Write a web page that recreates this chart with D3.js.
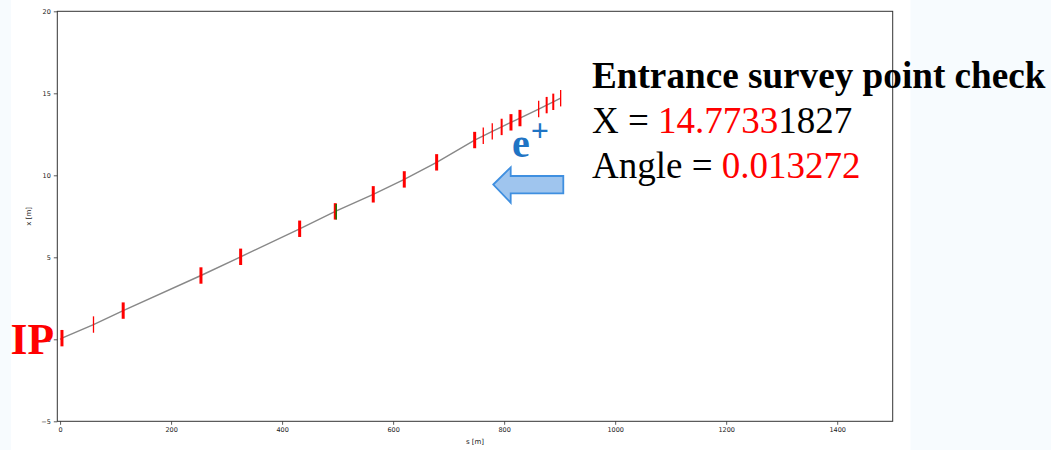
<!DOCTYPE html>
<html>
<head>
<meta charset="utf-8">
<script src="https://cdn.jsdelivr.net/npm/d3@7/dist/d3.min.js"></script>
<style>
  html, body { margin: 0; padding: 0; background: #f7fbfe; }
  svg { display: block; }
</style>
</head>
<body>
<svg id="chart" width="1051" height="450"></svg>
<script>
// ---- data ----
const lineS = [0, 3.4, 60.2, 113.7, 253.8, 325.3, 431.6, 495.8, 564.2, 620.1, 678.4, 746.9, 762.4, 778.6, 795.5, 812.3, 828.5, 862.2, 876.6, 888.5, 901.8];
const lineX = [0, 0.07, 0.90, 1.75, 3.89, 5.03, 6.74, 7.80, 8.84, 9.75, 10.79, 12.15, 12.41, 12.68, 12.95, 13.23, 13.49, 14.04, 14.28, 14.48, 14.70];
const markerS = [3.4, 60.2, 113.7, 253.8, 325.3, 431.6, 495.8, 564.2, 620.1, 678.4, 746.9, 762.4, 778.6, 795.5, 812.3, 828.5, 862.2, 876.6, 888.5, 901.8];
const markerX = [0.07, 0.90, 1.75, 3.89, 5.03, 6.74, 7.80, 8.84, 9.75, 10.79, 12.15, 12.41, 12.68, 12.95, 13.23, 13.49, 14.04, 14.28, 14.48, 14.70];
const markerType = ["B", "Q", "B", "B", "B", "B", "B", "B", "B", "B", "B", "Q", "Q", "S", "B", "B", "Q", "S", "S", "Q"];
const greenS = [497.5];
const greenX = [7.80];
const xTicks = [0, 200, 400, 600, 800, 1000, 1200, 1400];
const yTicks = [-5, 0, 5, 10, 15, 20];
const xDomain = [-5, 1500];
const yDomain = [-5, 20];
const markerHalfLen = 0.5;

// ---- layout ----
const svg = d3.select("#chart");
const mLeft = 57.3, mRight = 892.7, mTop = 11.3, mBottom = 421.3;

svg.append("rect").attr("x", 11).attr("y", 0).attr("width", 899.5).attr("height", 450).attr("fill", "#ffffff");

const x = d3.scaleLinear().domain(xDomain).range([mLeft, mRight]);
const y = d3.scaleLinear().domain(yDomain).range([mBottom, mTop]);

const axisColor = "#333";
const tickFont = "DejaVu Sans, sans-serif";
const fmt = d => (d < 0 ? "\u2212" + Math.abs(d) : String(d));

const gx = svg.append("g").attr("transform", `translate(0,${mBottom})`)
  .call(d3.axisBottom(x).tickValues(xTicks).tickFormat(fmt).tickSizeOuter(0).tickSize(3.5).tickPadding(3));
const gy = svg.append("g").attr("transform", `translate(${mLeft},0)`)
  .call(d3.axisLeft(y).tickValues(yTicks).tickFormat(fmt).tickSizeOuter(0).tickSize(3.5).tickPadding(3));
[gx, gy].forEach(g => {
  g.select(".domain").remove();
  g.selectAll("line").attr("stroke", axisColor).attr("stroke-width", 0.8);
  g.selectAll("text").attr("fill", "#222").style("font-family", tickFont).style("font-size", "6.5px");
});

svg.append("rect").attr("x", mLeft).attr("y", mTop).attr("width", mRight - mLeft).attr("height", mBottom - mTop)
  .attr("fill", "none").attr("stroke", axisColor).attr("stroke-width", 1);

svg.append("text").attr("x", (mLeft + mRight) / 2).attr("y", 444).attr("text-anchor", "middle")
  .style("font-family", tickFont).style("font-size", "7px").attr("fill", "#222").text("s [m]");
svg.append("text").attr("transform", `translate(31,${(mTop + mBottom) / 2}) rotate(-90)`).attr("text-anchor", "middle")
  .style("font-family", tickFont).style("font-size", "7px").attr("fill", "#222").text("x [m]");

// beam line
const line = d3.line().x((d, i) => x(lineS[i])).y((d, i) => y(lineX[i]));
svg.append("path").datum(lineS).attr("d", line).attr("fill", "none").attr("stroke", "#888").attr("stroke-width", 1.4);

// markers
const widthOf = { B: 3, S: 2, Q: 1.3 };
svg.append("g").selectAll("line").data(markerS).join("line")
  .attr("x1", (d) => x(d)).attr("x2", (d) => x(d))
  .attr("y1", (d, i) => y(markerX[i] + markerHalfLen))
  .attr("y2", (d, i) => y(markerX[i] - markerHalfLen))
  .attr("stroke", "#ff0000")
  .attr("stroke-width", (d, i) => widthOf[markerType[i]]);
svg.append("g").selectAll("line").data(greenS).join("line")
  .attr("x1", (d) => x(d)).attr("x2", (d) => x(d))
  .attr("y1", (d, i) => y(greenX[i] + markerHalfLen - 0.05))
  .attr("y2", (d, i) => y(greenX[i] - markerHalfLen))
  .attr("stroke", "#008000").attr("stroke-width", 1.3);

// annotations
const serif = "'Liberation Serif', 'Times New Roman', serif";
svg.append("text").attr("x", 592).attr("y", 88.3).style("font-family", serif).style("font-size", "37.2px")
  .style("font-weight", "bold").attr("fill", "#000").text("Entrance survey point check");
const t2 = svg.append("text").attr("x", 592).attr("y", 133.3).style("font-family", serif).style("font-size", "37px");
t2.append("tspan").attr("fill", "#000").text("X = ");
t2.append("tspan").attr("fill", "#ff0000").text("14.7733");
t2.append("tspan").attr("fill", "#000").text("1827");
const t3 = svg.append("text").attr("x", 592).attr("y", 178).style("font-family", serif).style("font-size", "37px");
t3.append("tspan").attr("fill", "#000").text("Angle = ");
t3.append("tspan").attr("fill", "#ff0000").text("0.013272");

svg.append("text").attr("x", 10.5).attr("y", 354).style("font-family", serif).style("font-size", "43.5px")
  .style("font-weight", "bold").attr("fill", "#ff0000").text("IP");

const ep = svg.append("text").attr("x", 512).attr("y", 157).style("font-family", serif)
  .style("font-weight", "bold").attr("fill", "#1f74c4");
ep.append("tspan").style("font-size", "40px").text("e");
ep.append("tspan").attr("dy", -16).attr("dx", 1).style("font-size", "32px").text("+");

// arrow
const arrowPts = [[493.3, 184.5], [510.7, 167.3], [510.7, 176], [563.3, 176], [563.3, 193.3], [510.7, 193.3], [510.7, 202.7]];
svg.append("polygon").attr("points", arrowPts.map(p => p.join(",")).join(" "))
  .attr("fill", "#9fc5ee").attr("stroke", "#3f8fe0").attr("stroke-width", 1.8).attr("stroke-linejoin", "miter");
</script>
</body>
</html>
